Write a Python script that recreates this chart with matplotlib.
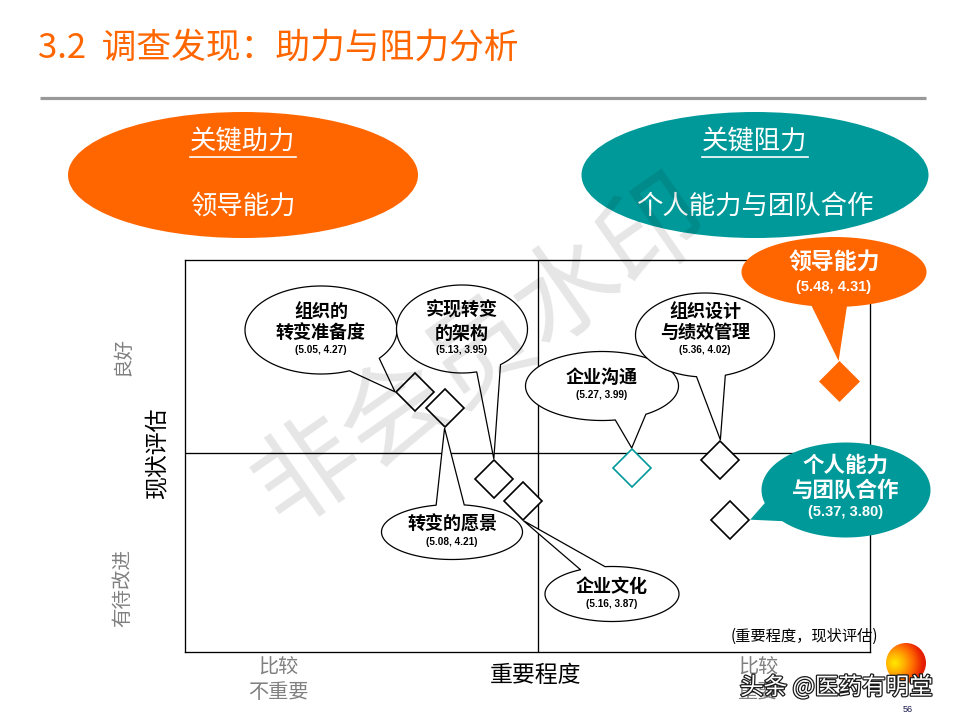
import numpy as np
import matplotlib
matplotlib.use('Agg')
import matplotlib.pyplot as plt
from matplotlib.patches import Ellipse, Polygon, Circle
from matplotlib.colors import LinearSegmentedColormap
import matplotlib.patheffects as pe

plt.rcParams['font.family'] = ['Noto Sans CJK SC', 'DejaVu Sans']

# ---------------- data ----------------
factors = ['组织的转变准备度', '转变的愿景', '实现转变的架构', '企业文化',
           '企业沟通', '组织设计与绩效管理', '个人能力与团队合作', '领导能力']
bubble_labels = ['组织的\n转变准备度', '转变的愿景', '实现转变\n的架构', '企业文化',
                 '企业沟通', '组织设计\n与绩效管理', '个人能力\n与团队合作', '领导能力']
importance = [5.05, 5.08, 5.13, 5.16, 5.27, 5.36, 5.37, 5.48]   # 重要程度
status = [4.27, 4.21, 3.95, 3.87, 3.99, 4.02, 3.80, 4.31]       # 现状评估

title = '3.2  调查发现：助力与阻力分析'
help_head, help_item = '关键助力', '领导能力'
resist_head, resist_item = '关键阻力', '个人能力与团队合作'
x_title, y_title = '重要程度', '现状评估'
x_low, x_high = ['比较', '不重要'], ['比较', '重要']
y_high, y_low = '良好', '有待改进'
coord_note = '(重要程度，现状评估)'

# ---------------- styles / layout ----------------
ORANGE = '#FF6600'
TEAL = '#009999'
W, H = 960, 720

fig = plt.figure(figsize=(W / 100, H / 100), dpi=100)
ax = fig.add_axes([185 / W, 1 - 652 / H, 685 / W, 392 / H])
ax.set_xlim(4.8165, 5.5119)
ax.set_ylim(3.3135, 4.7547)
ax.set_xticks([])
ax.set_yticks([])
for s in ax.spines.values():
    s.set_linewidth(0.95)
    s.set_color('black')
# quadrant dividers (layout, axes fraction)
ax.plot([0.516, 0.516], [0, 1], transform=ax.transAxes, color='black', lw=0.95)
ax.plot([0, 1], [0.508, 0.508], transform=ax.transAxes, color='black', lw=0.95)

diamond_style = {
    '领导能力': dict(mfc=ORANGE, mec=ORANGE, ms=20.5, mew=0.5),
    '企业沟通': dict(mfc='white', mec=TEAL, ms=19.5, mew=1.2),
}
default_diamond = dict(mfc='white', mec='black', ms=19.5, mew=1.2)
for i, name in enumerate(factors):
    st = diamond_style.get(name, default_diamond)
    ax.plot([importance[i]], [status[i]], marker='D', linestyle='none',
            clip_on=False, zorder=3, **st)

# overlay in image-pixel coordinates (y down)
ov = fig.add_axes([0, 0, 1, 1])
ov.set_xlim(0, W)
ov.set_ylim(H, 0)
ov.axis('off')


def to_px(x, y):
    dx, dy = ax.transData.transform((x, y))
    return dx, H - dy


# title + rule
ov.text(38, 48, title, color=ORANGE, fontsize=25, ha='left', va='center')
ov.plot([40, 926], [98, 98], color='#999999', lw=2.3, solid_capstyle='butt')

# top ellipses
ov.add_patch(Ellipse((243, 175), 350, 126, fc=ORANGE, ec='none', zorder=2))
ov.add_patch(Ellipse((755, 175), 347, 126, fc=TEAL, ec='none', zorder=2))
for cx, head, item in [(243, help_head, help_item), (755, resist_head, resist_item)]:
    ov.text(cx, 142, head, color='white', fontsize=19, ha='center', va='center', zorder=3)
    ov.plot([cx - 53, cx + 53], [157, 157], color='white', lw=1.2, zorder=3)
    ov.text(cx, 206, item, color='white', fontsize=19, ha='center', va='center', zorder=3)

# callout bubbles: centre, size, tail gap angles, diamond corner, text offsets, style
layout = {
    '组织的转变准备度': dict(c=(321, 330), wh=(152, 88), ang=(40, 68), corner='left', dy=(-19, 2), ndy=20, st='plain'),
    '实现转变的架构': dict(c=(462, 329), wh=(131, 88), ang=(54, 77), corner='top', dy=(-19, 4), ndy=21, st='plain'),
    '转变的愿景': dict(c=(452, 532), wh=(141, 55), ang=(257, 280), corner='bottom', dy=(-8,), ndy=10, st='plain'),
    '企业文化': dict(c=(612, 594), wh=(134, 55), ang=(242, 264), corner='bottom', dy=(-8,), ndy=10, st='plain'),
    '企业沟通': dict(c=(602, 386), wh=(153, 69), ang=(55, 80), corner='top', dy=(-9,), ndy=9, st='plain'),
    '组织设计与绩效管理': dict(c=(705, 335), wh=(139, 84), ang=(73, 97), corner='top', dy=(-23, -3), ndy=15, st='plain'),
    '领导能力': dict(c=(834, 272), wh=(185, 70), ang=(82, 104), corner='top', dy=(-10,), ndy=15, st='orange'),
    '个人能力与团队合作': dict(c=(846, 490), wh=(169, 95), ang=(139, 164), corner='right', dy=(-25, 0), ndy=22, st='teal'),
}
bubble_styles = {
    'plain': dict(fc='white', ec='black', lw=0.9, tc='black', fs=13, nfs=7.2),
    'orange': dict(fc=ORANGE, ec='none', lw=0, tc='white', fs=16.5, nfs=10.5),
    'teal': dict(fc=TEAL, ec='none', lw=0, tc='white', fs=15.5, nfs=10.5),
}
HALF = 20
corner_off = {'top': (0, -HALF), 'bottom': (0, HALF), 'left': (-HALF, 0), 'right': (HALF, 0)}

for i, name in enumerate(factors):
    L = layout[name]
    S = bubble_styles[L['st']]
    cx, cy = L['c']
    rx, ry = L['wh'][0] / 2, L['wh'][1] / 2
    ta, tb = L['ang']
    px, py = to_px(importance[i], status[i])
    ox, oy = corner_off[L['corner']]
    tip = (px + ox, py + oy)
    a = np.radians(np.linspace(tb, ta + 360, 300))
    pts = np.column_stack([cx + rx * np.cos(a), cy + ry * np.sin(a)])
    pts = np.vstack([pts, [tip]])
    ov.add_patch(Polygon(pts, closed=True, fc=S['fc'], ec=S['ec'], lw=S['lw'],
                         joinstyle='miter', zorder=5))
    lines = bubble_labels[i].split('\n')
    for ln, d in zip(lines, L['dy']):
        ov.text(cx, cy + d, ln, color=S['tc'], fontsize=S['fs'], fontweight='bold',
                ha='center', va='center', zorder=6)
    ov.text(cx, cy + L['ndy'], f'({importance[i]:.2f}, {status[i]:.2f})',
            color=S['tc'], fontsize=S['nfs'], fontweight='bold',
            family=['Liberation Sans', 'DejaVu Sans'], ha='center', va='center', zorder=6)

# axis annotations
GRAY = '#808080'
ov.text(123, 356, y_high, color=GRAY, fontsize=14, rotation=90, ha='center', va='center')
ov.text(123, 588, y_low, color=GRAY, fontsize=14, rotation=90, ha='center', va='center')
ov.text(158, 453, y_title, color='black', fontsize=16.5, rotation=90, ha='center', va='center')
ov.text(278, 667, x_low[0], color=GRAY, fontsize=14.5, ha='center', va='center')
ov.text(278, 693, x_low[1], color=GRAY, fontsize=14.5, ha='center', va='center')
ov.text(758, 667, x_high[0], color=GRAY, fontsize=14.5, ha='center', va='center')
ov.text(758, 693, x_high[1], color=GRAY, fontsize=14.5, ha='center', va='center')
ov.text(536, 676, x_title, color='black', fontsize=16.5, ha='center', va='center')
ov.text(804, 636, coord_note, color='black', fontsize=11, ha='center', va='center', zorder=6)

# watermark
ov.text(482, 352, '非会员水印', color='black', alpha=0.10, fontsize=76, rotation=35,
        ha='center', va='center', zorder=20)

# sun logo
cmap = LinearSegmentedColormap.from_list('sun', ['#FFE800', '#FFB000', '#FF6A00', '#E82000', '#D01000'])
yy, xx = np.mgrid[0:1:120j, 0:1:120j]
dist = np.hypot(xx - 0.22, yy - 0.5)
im = ov.imshow(dist, cmap=cmap, extent=(886, 926, 683, 643), origin='upper',
               aspect='auto', interpolation='bilinear', zorder=7)
im.set_clip_path(Circle((906, 663), 20, transform=ov.transData))
ov.set_xlim(0, W)
ov.set_ylim(H, 0)

ov.text(740, 687, '头条 @医药有明堂', color='white', fontsize=17, ha='left', va='center', zorder=9,
        path_effects=[pe.withStroke(linewidth=1.8, foreground='#1a1a1a')])
ov.text(908, 709, '56', color='#1a1a50', fontsize=6.5, ha='center', va='center', zorder=10,
        family=['Liberation Sans', 'DejaVu Sans'])

fig.savefig('out.png', dpi=100)
